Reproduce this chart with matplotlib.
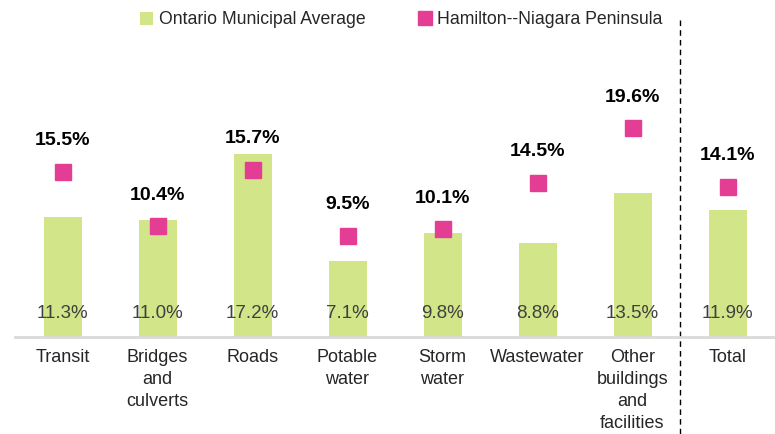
import numpy as np
import matplotlib.pyplot as plt
from matplotlib import font_manager

names = set(f.name for f in font_manager.fontManager.ttflist)
fam = 'Liberation Sans Narrow' if 'Liberation Sans Narrow' in names else 'Liberation Sans'
plt.rcParams['font.family'] = [fam, 'DejaVu Sans']

categories = ['Transit', 'Bridges\nand\nculverts', 'Roads', 'Potable\nwater', 'Storm\nwater',
              'Wastewater', 'Other\nbuildings\nand\nfacilities', 'Total']
ontario = [11.3, 11.0, 17.2, 7.1, 9.8, 8.8, 13.5, 11.9]
hamilton = [15.5, 10.4, 15.7, 9.5, 10.1, 14.5, 19.6, 14.1]

green = '#d3e589'
pink = '#e33d94'

fig = plt.figure(figsize=(7.75, 4.34), dpi=100)
ax = fig.add_axes([15/775, 1-337/434, 760/775, 297/434])

x = np.arange(len(categories))
bars = ax.bar(x, ontario, width=0.4, color=green, label='Ontario Municipal Average', zorder=2)
pts, = ax.plot(x, hamilton, 's', color=pink, markersize=11.5, linestyle='none',
               label='Hamilton--Niagara Peninsula', zorder=3)

for xi, v in zip(x, ontario):
    ax.annotate(f'{v:.1f}%', (xi, 0), xytext=(0, 17), textcoords='offset points',
                ha='center', va='center', fontsize=13.5, color='#404040', zorder=4)
for xi, v in zip(x, hamilton):
    ax.annotate(f'{v:.1f}%', (xi, v), xytext=(0, 22.5), textcoords='offset points',
                ha='center', va='center', fontsize=14, fontweight='bold', color='black', zorder=4)

ax.set_xlim(-0.5, len(categories) - 0.5)
ax.set_ylim(0, 27.9)
for s in ['top', 'right', 'left']:
    ax.spines[s].set_visible(False)
ax.spines['bottom'].set_color('#d9d9d9')
ax.spines['bottom'].set_linewidth(2)
ax.set_yticks([])
ax.set_xticks(x)
ax.set_xticklabels(categories, fontsize=13, color='#262626', linespacing=1.38, va='top')
ax.tick_params(axis='x', length=0, pad=9)

# separator before Total
ax.plot([6.5, 6.5], [1.067, -0.33], transform=ax.get_xaxis_transform(), color='black',
        linestyle=(0, (4, 3)), linewidth=1, clip_on=False)

fig.legend([bars, pts], ['Ontario Municipal Average', 'Hamilton--Niagara Peninsula'],
           loc='center', bbox_to_anchor=(0.518, 1-20/434), ncol=2, frameon=False,
           fontsize=12.7, handlelength=0.7, handleheight=0.7, handletextpad=0.35,
           columnspacing=3.0, labelcolor='#262626', markerscale=0.9)

fig.savefig('out.png', dpi=100)
